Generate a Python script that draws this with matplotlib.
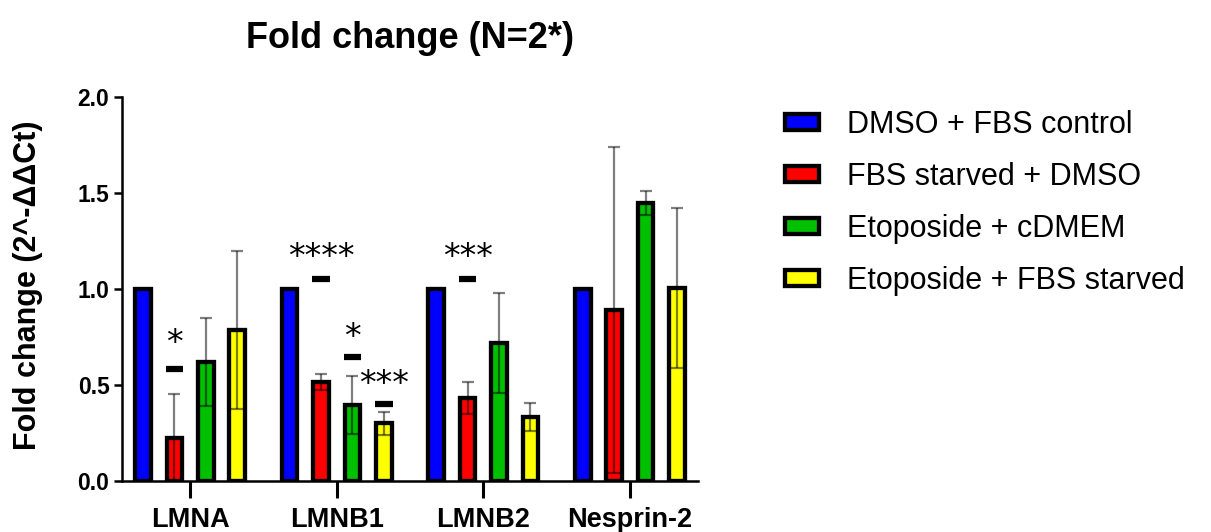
import numpy as np
import matplotlib
matplotlib.use("Agg")
import matplotlib.pyplot as plt
from matplotlib.patches import Patch

plt.rcParams['font.family'] = ['Liberation Sans', 'DejaVu Sans']

genes = ['LMNA', 'LMNB1', 'LMNB2', 'Nesprin-2']
groups = ['DMSO + FBS control', 'FBS starved + DMSO',
          'Etoposide + cDMEM', 'Etoposide + FBS starved']
colors = ['#0000FF', '#FF0000', '#00C000', '#FFFF00']

# mean fold change, one list per treatment (order of genes)
dmso_fbs = [1.0, 1.0, 1.0, 1.0]
fbs_starved = [0.224, 0.516, 0.432, 0.89]
etop_cdmem = [0.62, 0.396, 0.719, 1.448]
etop_starved = [0.787, 0.30, 0.333, 1.005]

# error (SD)
err_dmso = [0, 0, 0, 0]
err_starved = [0.23, 0.04, 0.084, 0.85]
err_cdmem = [0.23, 0.15, 0.26, 0.06]
err_etop_starved = [0.41, 0.06, 0.073, 0.415]

means = [dmso_fbs, fbs_starved, etop_cdmem, etop_starved]
errs = [err_dmso, err_starved, err_cdmem, err_etop_starved]

# significance marks: (gene index, treatment index, stars, dash y, star y)
sig = [(0, 1, '*', 0.583, 0.715),
       (1, 1, '****', 1.052, 1.162),
       (1, 2, '*', 0.646, 0.745),
       (1, 3, '***', 0.40, 0.505),
       (2, 1, '***', 1.052, 1.162)]

gspace = 4.67
offsets = [-1.5, -0.5, 0.5, 1.5]
centers = np.arange(len(genes)) * gspace

fig = plt.figure(figsize=(12.11, 5.32), dpi=100)
ax = fig.add_axes([122/1211, 51/532, 576/1211, 384/532])

for k in range(4):
    xs = centers + offsets[k]
    ax.bar(xs, means[k], width=0.5, color=colors[k], edgecolor='black',
           linewidth=3.1, zorder=2)
    if k > 0:
        ax.errorbar(xs, means[k], yerr=errs[k], fmt='none', ecolor='black',
                    alpha=0.5, elinewidth=1.6, capsize=4.5, capthick=1.6,
                    zorder=3)

for gi, ti, stars, dy, sy in sig:
    x = centers[gi] + offsets[ti]
    ax.plot([x - 0.28, x + 0.28], [dy, dy], color='black', lw=4.5,
            solid_capstyle='butt', zorder=4)
    ax.text(x, sy, stars, ha='center', va='center', fontsize=24,
            family='DejaVu Sans', zorder=4)

ax.set_xlim(-2.17, centers[-1] + 2.17)
ax.set_ylim(0, 2.0)
ax.set_yticks([0, 0.5, 1.0, 1.5, 2.0])
ax.set_yticklabels(['0.0', '0.5', '1.0', '1.5', '2.0'], fontsize=16.5,
                   fontweight='bold')
ax.set_xticks(centers)
ax.set_xticklabels(genes, fontsize=19.5, fontweight='bold')
ax.tick_params(axis='y', length=6, width=1.8, pad=3)
ax.tick_params(axis='x', length=12, width=2.2, pad=7)
for s in ['top', 'right']:
    ax.spines[s].set_visible(False)
for s in ['left', 'bottom']:
    ax.spines[s].set_linewidth(1.8)

fig.text(410/1211, 1 - 38/532, 'Fold change (N=2*)', ha='center',
         va='center', fontsize=26, fontweight='bold')
fig.text(28/1211, 1 - 285/532, 'Fold change (2^-ΔΔCt)', rotation=90,
         ha='center', va='center', fontsize=22, fontweight='bold')

handles = [Patch(facecolor=c, edgecolor='black', linewidth=3.1) for c in colors]
fig.legend(handles, groups, loc='upper left',
           bbox_to_anchor=(785/1211, 1 - 110/532), frameon=False,
           fontsize=22, handlelength=1.12, handleheight=0.45,
           handletextpad=0.9, labelspacing=0.72, borderpad=0,
           borderaxespad=0)

fig.savefig('out.png', dpi=100)
